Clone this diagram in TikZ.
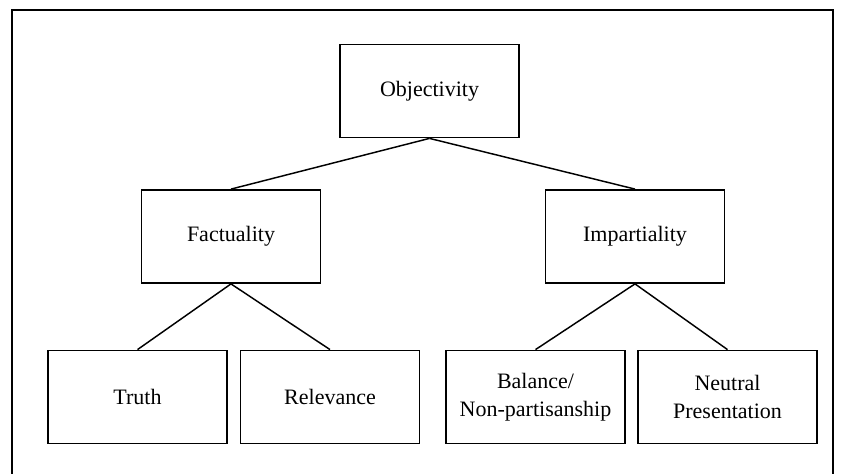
\documentclass[tikz,border=0pt]{standalone}
\usepackage{fontspec}
\setmainfont{Liberation Serif}

\tikzset{every picture/.style={line width=0.75pt}}
\tikzset{
  box/.style={draw, line width=1.1pt, minimum width=134.25pt, minimum height=70pt,
    inner sep=2pt, align=center, font=\fontsize{16.5}{21}\selectfont},
  link/.style={line width=1.1pt}
}

\begin{document}
\begin{tikzpicture}[x=0.75pt,y=0.75pt,yscale=-1,xscale=1]
	\useasboundingbox (0,0) rectangle (844,474);

	%Shape: Frame
	\draw [line width=1.5pt]   (12,476) -- (12,10) -- (833,10) -- (833,476) ;

	% Text Node
	\node [box] (obj) at (429.5,91) {Objectivity};
	% Text Node
	\node [box] (fact) at (231,236.5) {Factuality};
	% Text Node
	\node [box] (imp) at (635,236.5) {Impartiality};
	% Text Node
	\node [box] (truth) at (137.5,397) {Truth};
	% Text Node
	\node [box] (rel) at (330,397) {Relevance};
	% Text Node
	\node [box] (bal) at (535.5,397) {Balance/\\Non-partisanship};
	% Text Node
	\node [box] (neut) at (727.5,397) {Neutral\\Presentation};

	%Straight Lines
	\draw [link]   (obj.south) -- (fact.north) ;
	\draw [link]   (obj.south) -- (imp.north) ;
	\draw [link]   (fact.south) -- (truth.north) ;
	\draw [link]   (fact.south) -- (rel.north) ;
	\draw [link]   (imp.south) -- (bal.north) ;
	\draw [link]   (imp.south) -- (neut.north) ;

\end{tikzpicture}
\end{document}
